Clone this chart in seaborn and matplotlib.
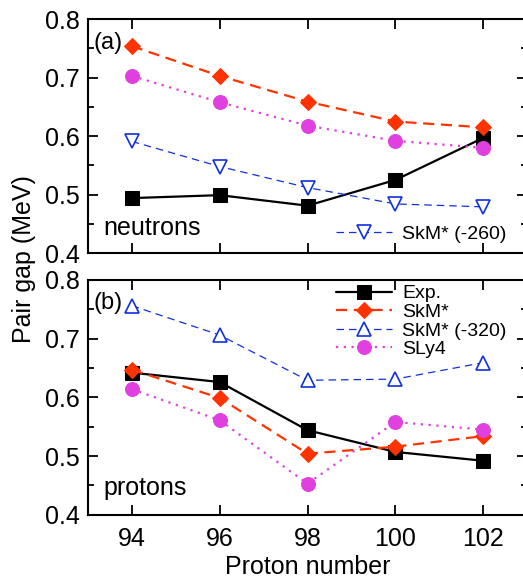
import matplotlib
matplotlib.use("Agg")
import matplotlib.pyplot as plt
import seaborn as sns
import numpy as np
from matplotlib.ticker import MultipleLocator

sns.set_style("ticks")
plt.rcParams['font.family'] = ['Liberation Sans', 'DejaVu Sans']
plt.rcParams.update({"text.color": "black", "axes.labelcolor": "black",
					 "xtick.color": "black", "ytick.color": "black",
					 "axes.edgecolor": "black"})

protons = [94, 96, 98, 100, 102]

# panel (a): neutrons
n_exp = [0.494, 0.499, 0.481, 0.525, 0.597]
n_skm = [0.754, 0.703, 0.659, 0.625, 0.615]
n_skm260 = [0.591, 0.548, 0.512, 0.484, 0.479]
n_sly4 = [0.703, 0.658, 0.618, 0.592, 0.580]

# panel (b): protons
p_exp = [0.642, 0.626, 0.544, 0.507, 0.492]
p_skm = [0.647, 0.599, 0.504, 0.516, 0.534]
p_skm320 = [0.756, 0.706, 0.629, 0.631, 0.659]
p_sly4 = [0.614, 0.561, 0.453, 0.558, 0.545]

red = "#ff3300"
blue = "#1030e0"
mag = "#e040e0"

fig = plt.figure(figsize=(5.23, 5.83), dpi=100)
ax1 = fig.add_axes([0.168, 0.566, 0.840, 0.401])
ax2 = fig.add_axes([0.168, 0.117, 0.840, 0.403])


def draw(ax, exp, skm, skm_mod, sly4, mod_label, mod_marker, show_all):
	sns.lineplot(x=protons, y=exp, ax=ax, color="black", lw=1.6, marker="s",
				 markersize=10, markeredgecolor="black", label="Exp." if show_all else None)
	sns.lineplot(x=protons, y=skm, ax=ax, color=red, lw=1.6, linestyle=(0, (5, 3)), marker="D",
				 markersize=8, markeredgecolor=red, label="SkM*" if show_all else None)
	sns.lineplot(x=protons, y=skm_mod, ax=ax, color=blue, lw=0.9, linestyle=(0, (6, 4)), marker=mod_marker,
				 markersize=10, markerfacecolor="white", markeredgecolor=blue, markeredgewidth=1.2,
				 label=mod_label)
	sns.lineplot(x=protons, y=sly4, ax=ax, color=mag, lw=1.6, linestyle=(0, (1, 2.5)), marker="o",
				 markersize=10, markeredgecolor=mag, label="SLy4" if show_all else None)
	ax.set_xlim(93, 103)
	ax.set_ylim(0.4, 0.8)
	ax.xaxis.set_major_locator(MultipleLocator(2))
	ax.yaxis.set_major_locator(MultipleLocator(0.1))
	ax.yaxis.set_minor_locator(MultipleLocator(0.05))
	ax.tick_params(which="both", direction="in", top=True, right=True, labelsize=18, width=1.3)
	ax.tick_params(which="major", length=7.5, pad=6)
	ax.tick_params(axis="x", which="major", pad=9)
	ax.tick_params(which="minor", length=4)
	for s in ax.spines.values():
		s.set_linewidth(1.5)
	ax.set_ylabel("")


draw(ax1, n_exp, n_skm, n_skm260, n_sly4, "SkM* (-260)", "v", False)
draw(ax2, p_exp, p_skm, p_skm320, p_sly4, "SkM* (-320)", "^", True)

ax1.set_xticklabels([])
ax1.legend(loc="lower right", frameon=False, fontsize=14, handlelength=2.9,
		   borderaxespad=0.1, handletextpad=0.5, bbox_to_anchor=(0.975, 0.0))
ax2.legend(loc="upper right", frameon=False, fontsize=14, handlelength=2.9,
		   borderaxespad=0.1, handletextpad=0.5, labelspacing=0.05, bbox_to_anchor=(0.975, 1.02))

ax1.text(0.012, 0.9, "(a)", transform=ax1.transAxes, fontsize=17, va="center")
ax2.text(0.012, 0.9, "(b)", transform=ax2.transAxes, fontsize=17, va="center")
ax1.text(0.035, 0.105, "neutrons", transform=ax1.transAxes, fontsize=18, va="center")
ax2.text(0.035, 0.115, "protons", transform=ax2.transAxes, fontsize=18, va="center")

ax2.set_xlabel("Proton number", fontsize=18, labelpad=3)
fig.text(0.046, 0.555, "Pair gap (MeV)", rotation=90, fontsize=18, ha="center", va="center")

fig.savefig("out.png", dpi=100)
